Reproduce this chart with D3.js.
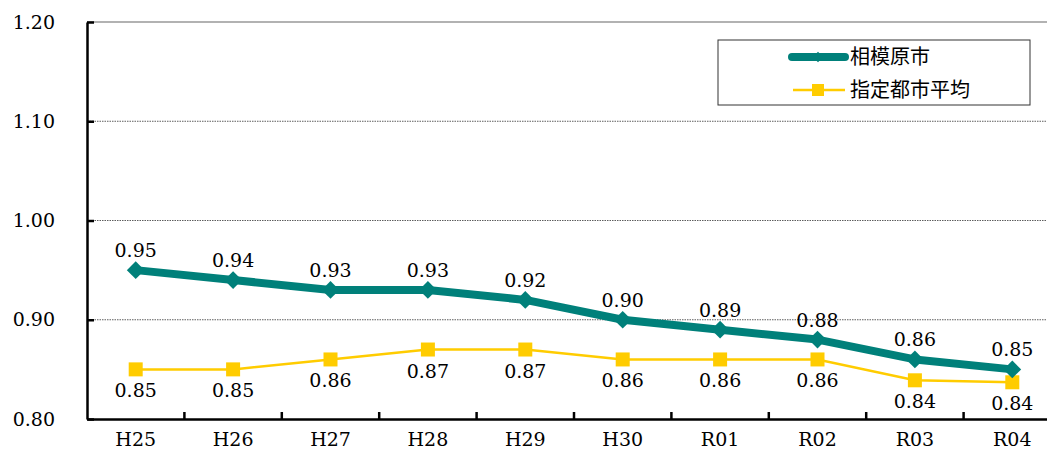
<!DOCTYPE html>
<html>
<head>
<meta charset="utf-8">
<script src="https://cdn.jsdelivr.net/npm/d3@7"></script>
<style>
  body { margin: 0; background: #fff; }
  svg { display: block; }
</style>
</head>
<body>
<div id="vis"></div>
<script>
// chart data
const YEARS = ["H25", "H26", "H27", "H28", "H29", "H30", "R01", "R02", "R03", "R04"];
const SAGAMIHARA = [0.95, 0.94, 0.93, 0.93, 0.92, 0.90, 0.89, 0.88, 0.86, 0.85];
const CITY_AVG = [0.85, 0.85, 0.86, 0.87, 0.87, 0.86, 0.86, 0.86, 0.839, 0.837];
const Y_TICKS = [0.80, 0.90, 1.00, 1.10, 1.20];
const SERIES_NAMES = ["相模原市", "指定都市平均"];

const FRAME_WIDTH = 1047;
const FRAME_HEIGHT = 452;
const MARGINS = {left: 87, right: -14, top: 22, bottom: 33};
const VIS_WIDTH = FRAME_WIDTH - MARGINS.left - MARGINS.right;
const VIS_HEIGHT = FRAME_HEIGHT - MARGINS.top - MARGINS.bottom;

const TEAL = "#00807A";
const YELLOW = "#FFCC00";
const SERIF = "'DejaVu Serif', serif";
const CJK = "'Noto Sans CJK JP', sans-serif";

const FRAME = d3.select("#vis")
  .append("svg")
    .attr("width", FRAME_WIDTH)
    .attr("height", FRAME_HEIGHT);

const X_SCALE = d3.scaleBand()
  .domain(YEARS)
  .range([0, VIS_WIDTH]);

const Y_SCALE = d3.scaleLinear()
  .domain([0.80, 1.20])
  .range([VIS_HEIGHT, 0]);

const G = FRAME.append("g")
  .attr("transform", "translate(" + MARGINS.left + "," + MARGINS.top + ")");

// gridlines
G.selectAll(".grid")
  .data(Y_TICKS.slice(1))
  .enter()
  .append("line")
    .attr("x1", 0)
    .attr("x2", VIS_WIDTH)
    .attr("y1", d => Y_SCALE(d))
    .attr("y2", d => Y_SCALE(d))
    .attr("stroke", d => d === 1.20 ? "#999" : "#333")
    .attr("stroke-width", d => d === 1.20 ? 1.5 : 0.8)
    .attr("stroke-dasharray", d => d === 1.20 ? null : "1.5,1");

// y axis
const yAxis = G.append("g")
  .call(d3.axisLeft(Y_SCALE).tickValues(Y_TICKS).tickFormat(d3.format(".2f")).tickSizeInner(-7).tickSizeOuter(0).tickPadding(32));
yAxis.select(".domain").attr("stroke", "#000").attr("stroke-width", 2.5);
yAxis.selectAll(".tick line").attr("stroke", "#000").attr("stroke-width", 2.5);
yAxis.selectAll("text").attr("font-family", SERIF).attr("font-size", "19px").attr("fill", "#000");

// x axis
const xAxis = G.append("g")
  .attr("transform", "translate(0," + VIS_HEIGHT + ")")
  .call(d3.axisBottom(X_SCALE).tickSize(0).tickPadding(14));
xAxis.select(".domain").attr("stroke", "#000").attr("stroke-width", 2.5);
xAxis.selectAll("text").attr("font-family", SERIF).attr("font-size", "19px").attr("fill", "#000");

// x ticks between categories, pointing up
G.selectAll(".xtick")
  .data(YEARS.slice(1))
  .enter()
  .append("line")
    .attr("x1", d => X_SCALE(d))
    .attr("x2", d => X_SCALE(d))
    .attr("y1", VIS_HEIGHT)
    .attr("y2", VIS_HEIGHT - 7)
    .attr("stroke", "#000")
    .attr("stroke-width", 2.5);

const cx = (d, i) => X_SCALE(YEARS[i]) + X_SCALE.bandwidth() / 2;

// yellow line (指定都市平均)
G.append("path")
  .datum(CITY_AVG)
  .attr("d", d3.line().x(cx).y(d => Y_SCALE(d)))
  .attr("fill", "none")
  .attr("stroke", YELLOW)
  .attr("stroke-width", 2.5);

G.selectAll(".sq")
  .data(CITY_AVG)
  .enter()
  .append("rect")
    .attr("x", (d, i) => cx(d, i) - 7)
    .attr("y", d => Y_SCALE(d) - 7)
    .attr("width", 14)
    .attr("height", 14)
    .attr("fill", YELLOW);

// teal line (相模原市)
G.append("path")
  .datum(SAGAMIHARA)
  .attr("d", d3.line().x(cx).y(d => Y_SCALE(d)))
  .attr("fill", "none")
  .attr("stroke", TEAL)
  .attr("stroke-width", 8)
  .attr("stroke-linejoin", "round");

const diamond = d3.symbol().type(d3.symbolDiamond2).size(200);
G.selectAll(".dm")
  .data(SAGAMIHARA)
  .enter()
  .append("path")
    .attr("d", diamond)
    .attr("transform", (d, i) => "translate(" + cx(d, i) + "," + Y_SCALE(d) + ")")
    .attr("fill", TEAL);

// data labels
G.selectAll(".lblT")
  .data(SAGAMIHARA)
  .enter()
  .append("text")
    .attr("x", cx)
    .attr("y", d => Y_SCALE(d) - 13)
    .attr("text-anchor", "middle")
    .attr("font-family", SERIF)
    .attr("font-size", "19px")
    .text(d => d3.format(".2f")(d));

G.selectAll(".lblY")
  .data(CITY_AVG)
  .enter()
  .append("text")
    .attr("x", cx)
    .attr("y", d => Y_SCALE(d) + 28)
    .attr("text-anchor", "middle")
    .attr("font-family", SERIF)
    .attr("font-size", "19px")
    .text(d => d3.format(".2f")(d));

// legend
const LEG = FRAME.append("g").attr("transform", "translate(718,40)");
LEG.append("rect")
  .attr("width", 312)
  .attr("height", 65)
  .attr("fill", "#fff")
  .attr("stroke", "#333")
  .attr("stroke-width", 1);

LEG.append("line")
  .attr("x1", 74).attr("x2", 127).attr("y1", 17).attr("y2", 17)
  .attr("stroke", TEAL).attr("stroke-width", 8).attr("stroke-linecap", "round");
LEG.append("path")
  .attr("d", d3.symbol().type(d3.symbolDiamond2).size(70))
  .attr("transform", "translate(100,17)")
  .attr("fill", TEAL);

LEG.append("line")
  .attr("x1", 75).attr("x2", 127).attr("y1", 50).attr("y2", 50)
  .attr("stroke", YELLOW).attr("stroke-width", 2.5);
LEG.append("rect")
  .attr("x", 94).attr("y", 44).attr("width", 12).attr("height", 12)
  .attr("fill", YELLOW);

LEG.selectAll(".lt")
  .data(SERIES_NAMES)
  .enter()
  .append("text")
    .attr("x", 132)
    .attr("y", (d, i) => 17 + i * 33)
    .attr("dy", "0.35em")
    .attr("font-family", CJK)
    .attr("font-size", "20px")
    .attr("fill", "#000")
    .text(d => d);
</script>
</body>
</html>
